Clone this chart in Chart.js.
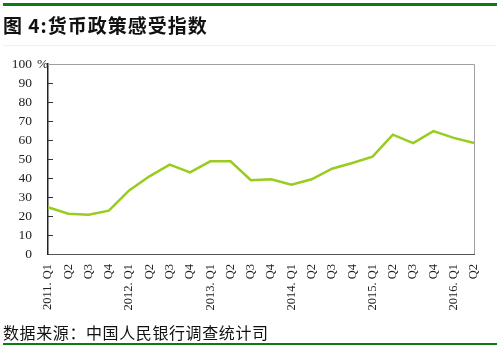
<!DOCTYPE html>
<html>
<head>
<meta charset="utf-8">
<script src="https://cdn.jsdelivr.net/npm/chart.js@4/dist/chart.umd.min.js"></script>
<style>
html,body{margin:0;padding:0;background:#fff;}
#wrap{position:relative;width:500px;height:351px;}
canvas{position:absolute;left:0;top:0;}
</style>
</head>
<body>
<div id="wrap"><canvas id="c" width="500" height="351"></canvas></div>
<script>
const categories = ['2011. Q1','Q2','Q3','Q4','2012. Q1','Q2','Q3','Q4','2013. Q1','Q2','Q3','Q4','2014. Q1','Q2','Q3','Q4','2015. Q1','Q2','Q3','Q4','2016. Q1','Q2'];
const sentimentIndex = [24.6,21.2,20.7,22.8,33.5,40.9,47.0,43.0,48.8,48.8,38.8,39.3,36.5,39.3,44.9,47.9,51.2,62.8,58.4,64.7,61.1,58.4];
const yTicks = [0,10,20,30,40,50,60,70,80,90,100];
const titleText = '图 4:货币政策感受指数';
const sourceText = '数据来源：中国人民银行调查统计司';
const unitText = '%';

const deco = {
  id: 'deco',
  beforeDraw(chart) {
    const ctx = chart.ctx;
    ctx.save();
    ctx.fillStyle = '#fff';
    ctx.fillRect(0, 0, chart.width, chart.height);
    ctx.fillStyle = '#0b7b12';
    ctx.fillRect(3, 3, 494, 3);
    ctx.fillRect(3, 343, 494, 2);
    ctx.fillStyle = '#eef5dc';
    ctx.fillRect(3, 45, 494, 1);
    ctx.fillStyle = '#111';
    ctx.textBaseline = 'middle';
    ctx.font = 'bold 19px "Noto Sans CJK SC"';
    ctx.letterSpacing = '1px';
    ctx.fillText(titleText, 3, 26);
    ctx.font = '16px "Noto Sans CJK SC"';
    ctx.letterSpacing = '0.6px';
    ctx.fillText(sourceText, 3, 333);
    ctx.letterSpacing = '0px';
    ctx.restore();
  },
  beforeDatasetsDraw(chart) {
    const ctx = chart.ctx;
    const a = chart.chartArea;
    const y = chart.scales.y;
    ctx.save();
    ctx.strokeStyle = '#a0a0a0';
    ctx.lineWidth = 1;
    ctx.beginPath();
    ctx.moveTo(a.left, a.top + 0.5);
    ctx.lineTo(a.right + 0.5, a.top + 0.5);
    ctx.lineTo(a.right + 0.5, a.bottom);
    ctx.stroke();
    ctx.strokeStyle = '#333';
    ctx.beginPath();
    yTicks.forEach(v => {
      if (v === 0 || v === 100) return;
      const py = Math.round(y.getPixelForValue(v)) + 0.5;
      ctx.moveTo(a.left, py);
      ctx.lineTo(a.left + 5, py);
    });
    ctx.stroke();
    ctx.fillStyle = '#222';
    ctx.font = '13.5px "Liberation Serif"';
    ctx.textBaseline = 'middle';
    ctx.fillText(unitText, 37, y.getPixelForValue(100));
    ctx.restore();
  }
};

new Chart(document.getElementById('c'), {
  type: 'line',
  data: {
    labels: categories,
    datasets: [{
      data: sentimentIndex,
      borderColor: '#99cc1f',
      borderWidth: 2.5,
      pointRadius: 0,
      tension: 0,
      fill: false
    }]
  },
  options: {
    responsive: false,
    animation: false,
    devicePixelRatio: 1,
    layout: { padding: { top: 64, right: 26, left: 0, bottom: 0 } },
    plugins: { legend: { display: false }, tooltip: { enabled: false } },
    scales: {
      x: {
        offset: false,
        grid: { display: false, drawTicks: false },
        border: { display: true, color: '#555', width: 1 },
        ticks: {
          autoSkip: false, minRotation: 90, maxRotation: 90, padding: 10,
          color: '#222', font: { family: 'Liberation Serif', size: 12.5 }
        },
        afterFit(s) { s.height = 97; }
      },
      y: {
        min: 0, max: 100,
        afterBuildTicks(s) { s.ticks = yTicks.map(v => ({ value: v })); },
        grid: { display: false, drawTicks: false },
        border: { display: true, color: '#222', width: 1.5 },
        ticks: {
          autoSkip: false,
          padding: 16, color: '#222',
          font: { family: 'Liberation Serif', size: 13.5 }
        },
        afterFit(s) { s.width = 48; }
      }
    }
  },
  plugins: [deco]
});
</script>
</body>
</html>
